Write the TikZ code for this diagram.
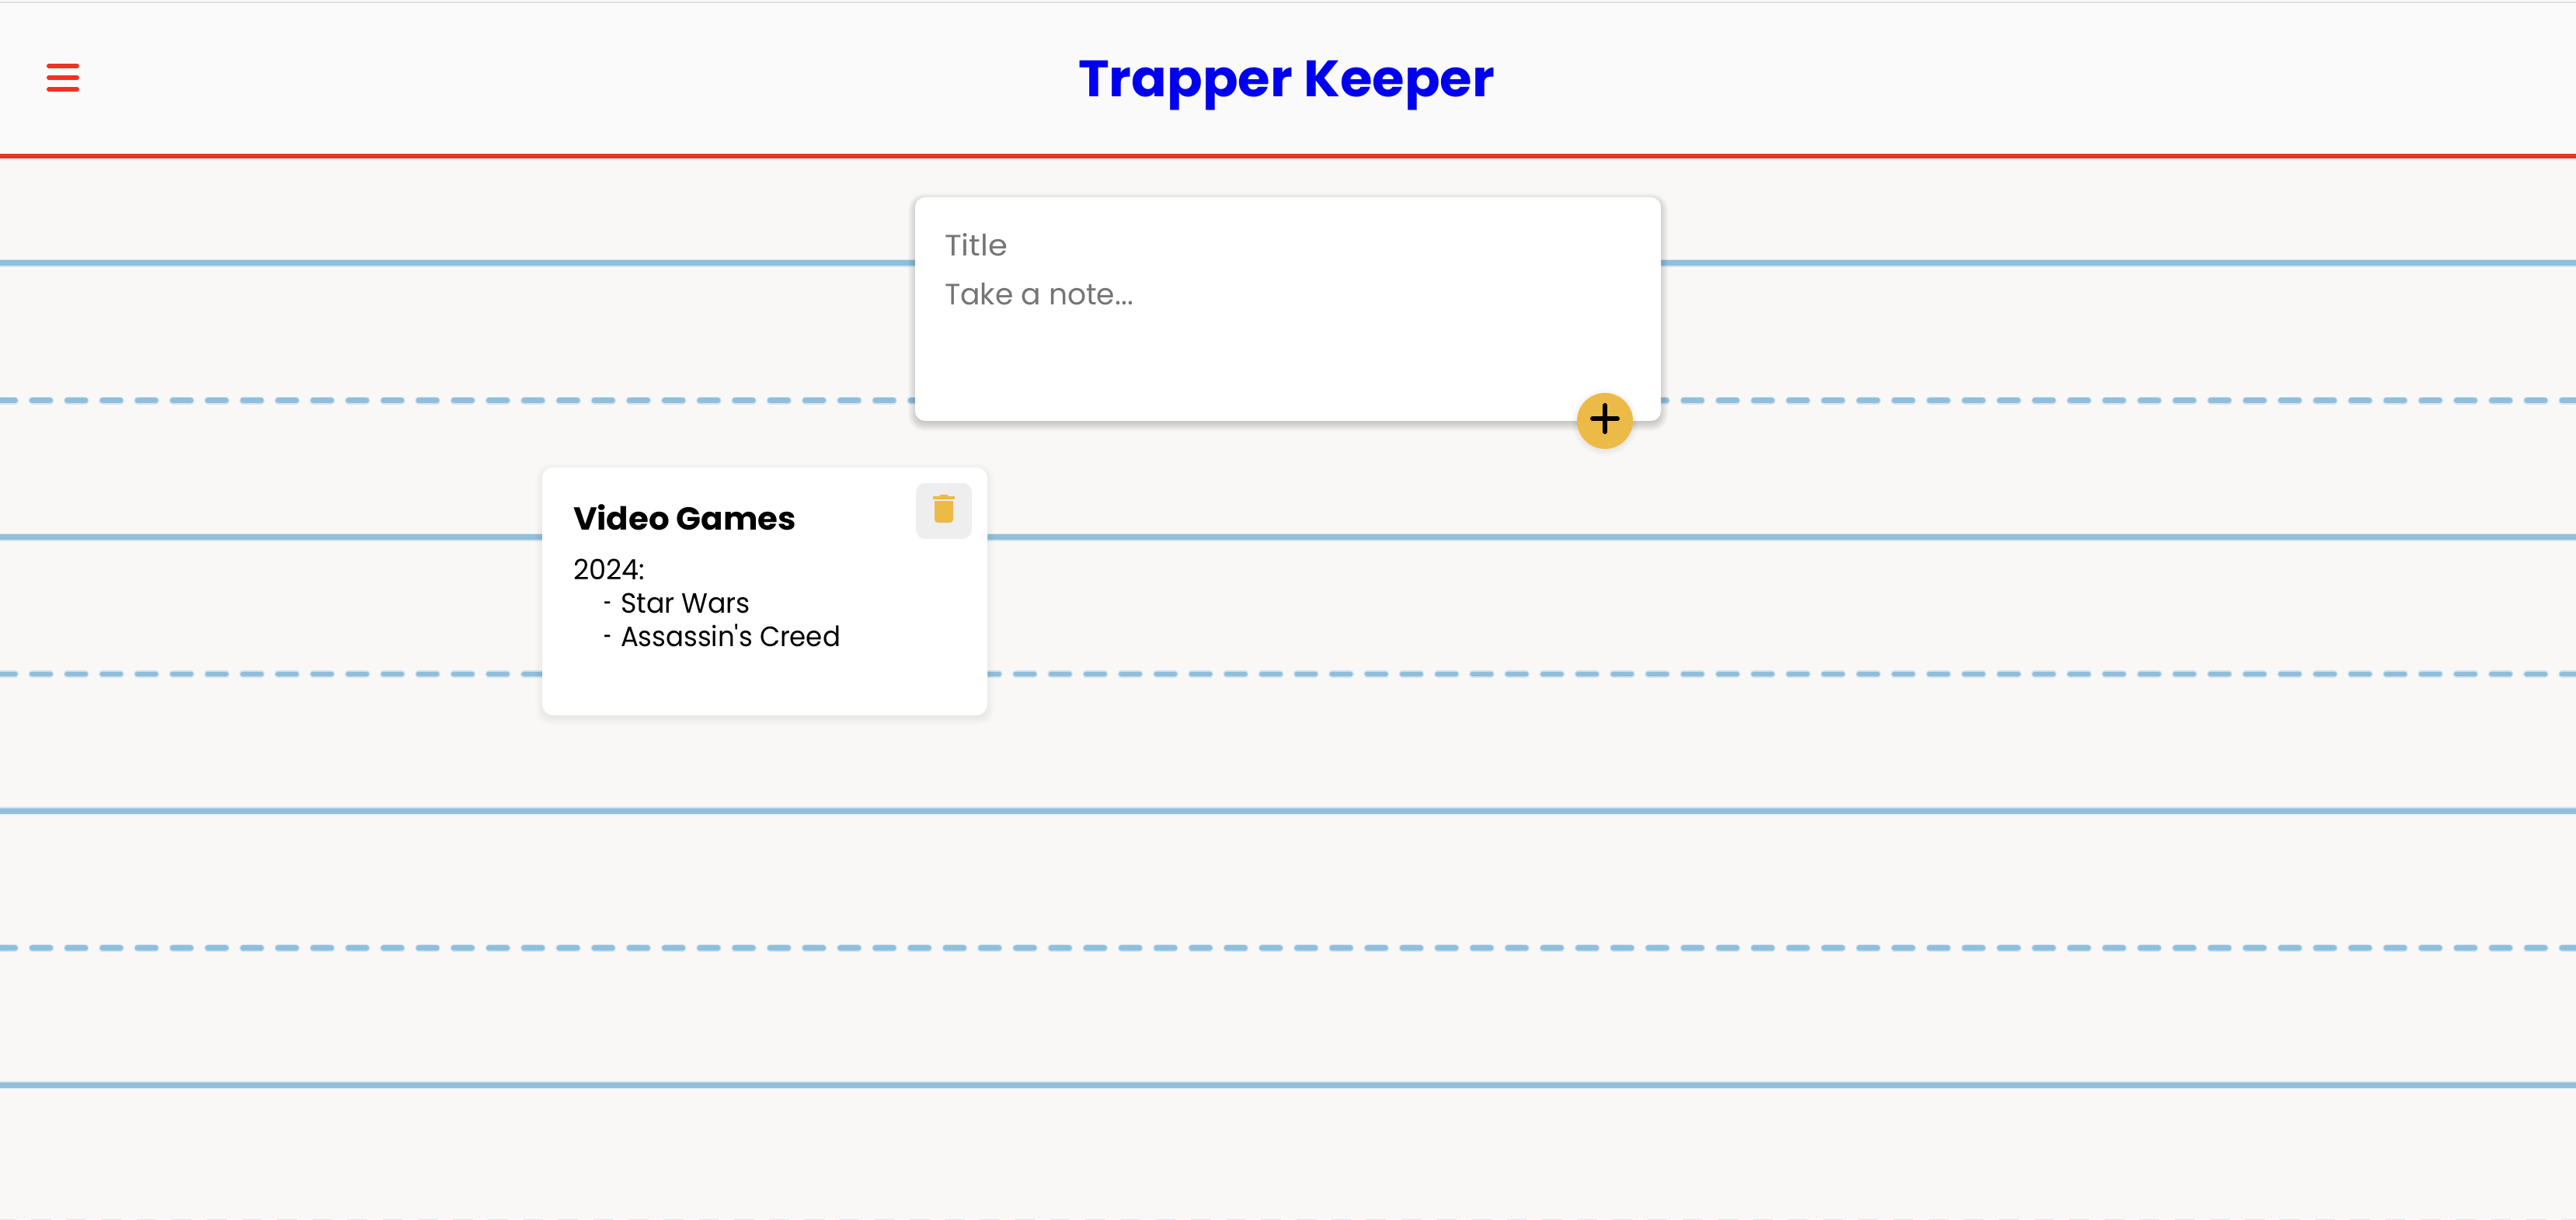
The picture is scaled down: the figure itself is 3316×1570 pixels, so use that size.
\documentclass[tikz,border=0pt]{standalone}
\usepackage{fontspec}
\usepackage{graphicx}
\setmainfont{Poppins}[Ligatures=TeXOff]
\definecolor{pagebg}{HTML}{F9F8F7}
\definecolor{headbg}{HTML}{FAFAFA}
\definecolor{topline}{HTML}{E0E0E0}
\definecolor{redline}{HTML}{EE3323}
\definecolor{rule}{HTML}{8FBFDD}
\definecolor{amber}{HTML}{ECBA46}
\definecolor{placeholder}{HTML}{757575}
\definecolor{btnbg}{HTML}{EEEEEE}
\definecolor{titleblue}{HTML}{0000F0}
\newcommand{\softshadow}[7]{% x1 y1 x2 y2 dy radius-pt opacity
  \foreach \s in {-3,-1.5,...,9}{
    \fill[black,opacity=#7,rounded corners={(#6+max(\s,0)*0.5pt)}]
      (#1-\s,#2+#5-\s) rectangle (#3+\s,#4+#5+\s);
  }
}
\newcommand{\fitw}[2]{\resizebox{#1pt}{\height}{#2}}
\newcommand{\dashmark}{\makebox[11pt][l]{\resizebox{5pt}{\height}{-}}}
\tikzset{
  solidrule/.style={rule,line width=3.4pt},
  solidglow/.style={rule,opacity=.35,line width=5pt},
  dashrule/.style={rule,line width=3.4pt,line cap=round,dash pattern=on 11.6pt off 11.015pt,dash phase=1.915pt},
  dashglow/.style={rule,opacity=.35,line width=4.8pt,line cap=round,dash pattern=on 11.6pt off 11.015pt,dash phase=1.915pt},
  label/.style={anchor=base west,inner sep=0pt,outer sep=0pt},
  card/.style={anchor=north west,fill=white,inner sep=0pt,outer sep=0pt},
  burger/.style={redline,line width=3pt,line cap=round},
  plusbar/.style={black,line width=3pt,line cap=round},
}
\begin{document}
\begin{tikzpicture}[x=0.5pt,y=-0.5pt]
\useasboundingbox (0,0) rectangle (3316,1570);
% backgrounds
\fill[pagebg] (0,0) rectangle (3316,1570);
\fill[headbg] (0,0) rectangle (3316,198);
\fill[topline] (0,2) rectangle (3316,4);
% ruled lines
\foreach \yy in {338.7,691.7,1044.4,1397.2}{
  \draw[solidglow] (0,\yy) -- (3316,\yy);
  \draw[solidrule] (0,\yy) -- (3316,\yy);
}
\foreach \yy in {515.7,868,1220.8}{
  \draw[dashglow] (0,\yy) -- (3316,\yy);
  \draw[dashrule] (0,\yy) -- (3316,\yy);
}
\draw[dashglow] (0,1574.8) -- (3316,1574.8);
% header
\fill[redline] (0,198) rectangle (3316,204);
\draw[burger] (63,85) -- (99,85);
\draw[burger] (63,100) -- (99,100);
\draw[burger] (63,115) -- (99,115);
\node[label,text=titleblue] (apptitle) at (1388,124)
  {\fitw{268}{\fontsize{33}{33}\selectfont\bfseries Trapper Keeper}};
% note form
\softshadow{1178}{254}{2138}{542}{4}{6pt}{0.024}
\node[card,minimum width=480pt,minimum height=144pt,rounded corners=6.5pt] (form) at (1178,254) {};
\node[label,text=placeholder] (titlefield) at (1216,329)
  {\fitw{40.5}{\fontsize{19}{19}\selectfont Title}};
\node[label,text=placeholder] (notefield) at (1216,392)
  {\fitw{121.5}{\fontsize{19}{19}\selectfont Take a note...}};
% add button
\softshadow{2032}{508}{2100}{576}{2}{17pt}{0.01}
\node[circle,fill=amber,minimum size=36pt,inner sep=0pt,outer sep=0pt] (addbtn) at (2066,542) {};
\draw[plusbar] (2050,539) -- (2082,539);
\draw[plusbar] (2066,522) -- (2066,556);
% saved note
\softshadow{698}{602}{1271}{921}{4}{6pt}{0.009}
\node[card,minimum width=286.5pt,minimum height=159.5pt,rounded corners=7pt] (savednote) at (698,602) {};
\node[label,text=black] (notetitle) at (738,682)
  {\fitw{143.5}{\fontsize{20.5}{20.5}\selectfont\bfseries Video Games}};
\node[label,text=black] (line1) at (738,746)
  {\fitw{46}{\fontsize{18}{18}\selectfont 2024:}};
\node[label,text=black] (line2) at (777,789)
  {\fontsize{18}{18}\selectfont\dashmark\fitw{83.5}{Star Wars}};
\node[label,text=black] (line3) at (777,832)
  {\fontsize{18}{18}\selectfont\dashmark\fitw{141.5}{Assassin's Creed}};
% delete button
\node[anchor=north west,fill=btnbg,minimum width=36pt,minimum height=36pt,inner sep=0pt,outer sep=0pt,rounded corners=6pt] (delbtn) at (1179,622) {};
\fill[amber] (1208,639.5) -- (1211,637) -- (1219,637) -- (1222,639.5) -- cycle;
\fill[amber] (1201,639) rectangle (1229,643);
\fill[amber] (1203,645) rectangle (1227,660);
\fill[amber,rounded corners=2pt] (1203,650) rectangle (1227,673);
\end{tikzpicture}
\end{document}
